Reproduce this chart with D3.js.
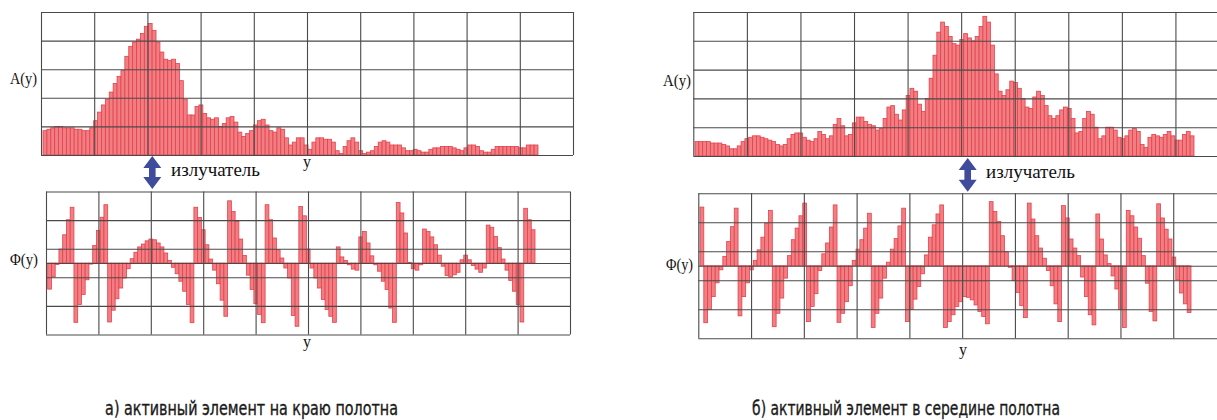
<!DOCTYPE html>
<html>
<head>
<meta charset="utf-8">
<script src="https://cdn.jsdelivr.net/npm/d3@7"></script>
<style>
  body { margin: 0; background: #fff; }
  svg { display: block; }
</style>
</head>
<body>
<svg id="chart" width="1217" height="420"></svg>
<script>
// amplitude A(y), % of panel height (grid step 20)
const ampEdge = [17, 18, 19, 20, 20, 19, 19, 19, 18, 18, 17, 17, 19, 24, 30, 35, 39, 44, 50, 55,
  59, 69, 76, 79, 81, 85, 90, 92, 87, 79, 72, 67, 66, 67, 64, 52, 39, 28, 28, 34,
  35, 29, 26, 25, 26, 20, 22, 26, 27, 23, 16, 13, 15, 17, 21, 24, 25, 21, 17, 16,
  19, 18, 12, 7, 9, 12, 12, 7, 4, 9, 12, 12, 11, 11, 9, 3, 1, 6, 10, 12,
  9, 3, 1, 2, 3, 6, 9, 10, 9, 7, 7, 7, 5, 3, 3, 4, 3, 2, 2, 4,
  5, 5, 6, 6, 6, 5, 4, 3, 5, 7, 7, 6, 3, 2, 2, 4, 6, 6, 6, 6,
  6, 6, 5, 5, 7, 7, 7];
const ampMid = [10, 10, 10, 10, 9, 9, 9, 8, 7, 5, 5, 7, 10, 12, 13, 14, 14, 13, 12, 11,
  10, 8, 7, 8, 12, 15, 16, 16, 13, 11, 10, 12, 17, 15, 12, 14, 22, 26, 21, 14,
  15, 23, 27, 27, 24, 22, 21, 18, 19, 26, 34, 35, 29, 25, 32, 42, 47, 45, 36, 31,
  40, 54, 70, 86, 93, 90, 83, 78, 77, 81, 85, 82, 80, 83, 90, 97, 93, 77, 57, 45,
  42, 46, 52, 51, 47, 40, 34, 33, 41, 45, 42, 35, 28, 26, 28, 32, 34, 33, 26, 16,
  17, 26, 31, 29, 20, 12, 14, 20, 20, 18, 13, 12, 14, 18, 19, 17, 8, 6, 13, 15,
  14, 13, 15, 17, 14, 11, 11, 15, 17, 14];

// phase Φ(y), degrees
const phaseEdge = [-73, -39, -4, 39, 79, 121, 156, -166, -116, -88, -47, -3, 49, 91, 128, 163, -165, -132, -100, -70,
  -42, -16, 12, 30, 45, 53, 62, 67, 65, 56, 45, 28, 7, -12, -30, -51, -79, -116, -167, 156,
  127, 93, 51, 11, -20, -58, -104, -149, 174, 144, 116, 67, 21, -34, -74, -114, -144, -167, 163, 121,
  70, 37, 14, -14, -42, -147, -177, 158, 132, 39, -14, -42, -70, -102, -130, -149, -166, 45, 17, 7,
  -5, -17, -20, 73, 88, 56, 20, -5, -23, -51, -74, -126, -166, 169, 140, 84, 2, -16, -20, -5,
  95, 88, 73, 51, 22, -9, -35, -39, -33, -26, 9, 22, 9, -7, -17, -26, -14, 106, 100, 74,
  43, 11, -20, -49, -79, -116, -165, 153, 121, 93];
const phaseMid = [162, -157, -121, -85, -47, -11, 26, 67, 108, 159, -138, -85, -47, -11, 15, 44, 79, 118, 153, -168,
  -131, -89, -34, 28, 72, 104, 138, 173, -154, -112, -77, -13, 33, 63, 107, 168, -156, -131, -99, -55,
  15, 46, 72, 104, 145, -170, -131, -89, -34, 10, 46, 75, 110, 159, -154, -120, -92, -57, -22, 30,
  79, 113, 143, 168, -170, -154, -135, -112, -99, -85, -87, -94, -108, -126, -140, -160, 177, 150, 122, 83,
  39, -4, -41, -74, -110, -143, 173, 129, 83, 49, 21, -13, -55, -105, -154, 166, 132, 74, 49, 28,
  -31, -85, -135, -163, 143, 74, 30, 6, -28, -64, -121, -170, 153, 138, 107, 76, 28, -48, -126, -152,
  171, 132, 101, 74, 24, -39, -75, -105, -129];

const ampTicks = [0, 20, 40, 60, 80, 100];
const phaseTicks = [-200, -120, -40, 0, 40, 120, 200];
const colTicks = d3.range(0, 11);
const emitterLabel = "излучатель";
const captions = ["а) активный элемент на краю полотна", "б) активный элемент в середине полотна"];

const svg = d3.select("#chart");
const gridColor = "#4a4a4a";
const barFill = "#f17e83";
const barStroke = "#e5404a";
const serif = "Liberation Serif, DejaVu Serif, Times New Roman, serif";

function drawPanel(p) {
  const g = svg.append("g");
  const y = d3.scaleLinear().domain(p.domain).range([p.y1, p.y0]);
  const cols = d3.scaleLinear().domain([0, 10]).range([p.x0, p.x1]);
  const x = d3.scaleBand().domain(d3.range(p.data.length)).range([p.bx0, p.bx1]);

  // bars first, grid over them
  g.append("g")
    .selectAll("rect")
    .data(p.data)
    .enter()
    .append("rect")
    .attr("x", (d, i) => x(i))
    .attr("width", x.bandwidth())
    .attr("y", (d) => y(Math.max(0, d)))
    .attr("height", (d) => Math.abs(y(d) - y(0)))
    .attr("fill", barFill)
    .attr("stroke", barStroke)
    .attr("stroke-width", 0.8);

  const hGrid = g.append("g")
    .attr("transform", `translate(${p.x0},0)`)
    .call(d3.axisLeft(y).tickValues(p.ticks).tickSize(-(p.x1 - p.x0)).tickFormat(""));
  const vGrid = g.append("g")
    .attr("transform", `translate(0,${p.y1})`)
    .call(d3.axisBottom(cols).tickValues(colTicks).tickSize(-(p.y1 - p.y0)).tickFormat(""));

  [hGrid, vGrid].forEach((a) => {
    a.select(".domain").remove();
    a.selectAll("line").attr("stroke", gridColor).attr("stroke-width", 1.1);
  });
}

drawPanel({ data: ampEdge, domain: [0, 100], ticks: ampTicks, x0: 41, x1: 573, y0: 12, y1: 155, bx0: 43, bx1: 538 });
drawPanel({ data: phaseEdge, domain: [-200, 200], ticks: phaseTicks, x0: 46, x1: 570, y0: 191.5, y1: 334.5, bx0: 47.7, bx1: 535 });
drawPanel({ data: ampMid, domain: [0, 100], ticks: ampTicks, x0: 693.3, x1: 1229, y0: 12, y1: 156, bx0: 695, bx1: 1194 });
drawPanel({ data: phaseMid, domain: [-200, 200], ticks: phaseTicks, x0: 698.3, x1: 1226, y0: 193.3, y1: 338.3, bx0: 700, bx1: 1191 });

function label(x, y, txt, size, width) {
  const t = svg.append("text")
    .attr("x", x).attr("y", y)
    .attr("font-family", serif)
    .attr("font-size", size)
    .attr("fill", "#111")
    .text(txt);
  if (width) t.attr("textLength", width).attr("lengthAdjust", "spacingAndGlyphs");
}

label(10, 84, "A(y)", 16, 27);
label(10, 265, "Φ(y)", 16, 28);
label(663, 86, "A(y)", 16, 28);
label(666, 270, "Φ(y)", 16, 27);
label(303, 167, "y", 16);
label(303, 347, "y", 16);
label(959, 355, "y", 16);
label(171, 176, emitterLabel, 18, 89);
label(986, 178, emitterLabel, 18, 89);

// double arrow for the emitter
function arrow(cx, top, bottom) {
  const hw = 9, sw = 3.3, hl = 12;
  const pts = [
    [cx, top], [cx + hw, top + hl], [cx + sw, top + hl], [cx + sw, bottom - hl],
    [cx + hw, bottom - hl], [cx, bottom], [cx - hw, bottom - hl], [cx - sw, bottom - hl],
    [cx - sw, top + hl], [cx - hw, top + hl]
  ];
  svg.append("path").attr("d", d3.line()(pts) + "Z").attr("fill", "#3f4c9c");
}
arrow(152.3, 156, 189);
arrow(967.7, 158, 191.7);

// captions: condensed sans, squeezed horizontally to the measured width
const capCenter = [251.5, 906];
const capWidth = [293, 308];
svg.selectAll(".caption")
  .data(captions)
  .enter()
  .append("text")
  .attr("class", "caption")
  .attr("text-anchor", "middle")
  .attr("font-family", "Liberation Sans Narrow, DejaVu Sans Condensed, sans-serif")
  .attr("font-size", 20)
  .attr("fill", "#1a1a1a")
  .attr("stroke", "#1a1a1a")
  .attr("stroke-width", 0.35)
  .text((d) => d)
  .attr("transform", function (d, i) {
    const k = capWidth[i] / this.getComputedTextLength();
    return `translate(${capCenter[i]},415) scale(${k},1)`;
  });
</script>
</body>
</html>
